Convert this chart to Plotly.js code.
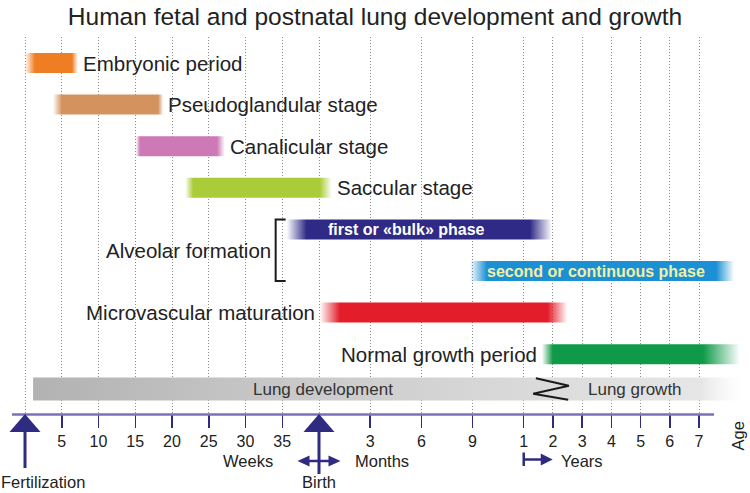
<!DOCTYPE html>
<html>
<head>
<meta charset="utf-8">
<script src="https://cdn.plot.ly/plotly-3.0.1.min.js"></script>
<style>html,body{margin:0;padding:0;background:#fff;}#chart{width:750px;height:493px;}</style>
</head>
<body>
<div id="chart"></div>
<script>
// ---------------- DATA ----------------
const title = 'Human fetal and postnatal lung development and growth';
const stages = ['Embryonic period', 'Pseudoglandular stage', 'Canalicular stage', 'Saccular stage',
                'first or «bulk» phase', 'second or continuous phase', 'Microvascular maturation', 'Normal growth period'];
const startVal  = [0,    3.8,  15.1, 21.8, 35.6, 8.85, 0.05, 1.62];
const startUnit = ['wk', 'wk', 'wk', 'wk', 'wk', 'mo', 'mo', 'yr'];
const endVal    = [7.2,  18.8, 27.2, 0.75, 1.96, 8.2,  2.5,  8.4];
const endUnit   = ['wk', 'wk', 'wk', 'mo', 'yr', 'yr', 'yr', 'yr'];
const groupLabel = 'Alveolar formation';   // groups stages 4 and 5

const devLabel = 'Lung development';
const growLabel = 'Lung growth';
const devStart = [1.1, 'wk'];
const devEnd = [8.5, 'yr'];
const breakAt = [1.93, 'yr'];

const weekTicks = [5, 10, 15, 20, 25, 30, 35];
const monthTicks = [3, 6, 9];
const yearTicks = [1, 2, 3, 4, 5, 6, 7];
const unitLabels = ['Weeks', 'Months', 'Years'];
const eventLabels = ['Fertilization', 'Birth'];
const ageLabel = 'Age';

// ---------------- STYLE ----------------
const FONT = 'Liberation Sans, Arial, Helvetica, sans-serif';
const colors = ['#ef7d22', '#d4935e', '#cc79b5', '#aacc38', '#2e2a86', '#1b90d5', '#e31e2a', '#0e9a48'];
const fadeIn  = [10, 9, 4, 8, 20, 17, 20, 11];
const fadeOut = [6, 5, 8, 12, 22, 18, 20, 37];
const labelMode = ['right', 'right', 'right', 'right', 'inside', 'inside', 'left', 'left'];
const insideShift = [0, 0, 0, 0, -13, -6, 0, 0];
const insideColor = ['#fff', '#fff', '#fff', '#fff', '#ffffff', '#f3efa2', '#fff', '#fff'];
const NAVY = '#2f2b80';

// ---------------- SCALE (broken time axis) ----------------
const PXW = 7.35;                // drawing px per week
const MO = 17.06 / PXW;          // axis units per month
const YR = 29.22 / PXW;          // axis units per year
function pos(v, unit) {
  if (unit === 'wk') return v;
  if (unit === 'mo') return 40 + v * MO;
  return 40 + 12 * MO + (v - 1) * YR;
}
function du(px) { return px / PXW; }
const ROW = 41.6;
function dr(px) { return px / ROW; }
const TOP = 37, BOT = 414, ROW0 = 63;
function yP(px) { return (BOT - px) / (BOT - TOP); }

function rgba(hex, a) {
  const n = parseInt(hex.slice(1), 16);
  return 'rgba(' + ((n >> 16) & 255) + ',' + ((n >> 8) & 255) + ',' + (n & 255) + ',' + a + ')';
}

const traces = [];
const annotations = [];
const shapes = [];
const barH = dr(20);

function rectTrace(x0, x1, yc, h, colorscale) {
  return {
    type: 'scatter', mode: 'lines', hoverinfo: 'skip', showlegend: false,
    x: [x0, x1, x1, x0, x0],
    y: [yc - h / 2, yc - h / 2, yc + h / 2, yc + h / 2, yc - h / 2],
    line: {width: 0, color: 'rgba(0,0,0,0)'},
    fill: 'toself',
    fillgradient: {type: 'horizontal', colorscale: colorscale}
  };
}

// gray development / growth bar
const devRow = dr(389 - ROW0);
{
  const x0 = pos(devStart[0], devStart[1]), x1 = pos(devEnd[0], devEnd[1]);
  const wpx = (x1 - x0) * PXW;
  const f = 1 - 42 / wpx;
  traces.push(rectTrace(x0, x1, devRow, dr(23), [
    [0, 'rgb(178,178,178)'], [0.4, 'rgb(203,203,203)'], [0.72, 'rgb(219,219,219)'],
    [f, 'rgb(230,230,230)'], [1, 'rgba(245,245,245,0)']]));
  annotations.push({x: pos(0, 'mo'), y: devRow, xref: 'x', yref: 'y', text: devLabel, showarrow: false,
    xanchor: 'center', yanchor: 'middle', xshift: 4, font: {family: FONT, size: 17, color: '#333'}});
  const bx = pos(breakAt[0], breakAt[1]);
  annotations.push({x: bx, y: devRow, xref: 'x', yref: 'y', text: growLabel, showarrow: false,
    xanchor: 'left', yanchor: 'middle', xshift: 35, font: {family: FONT, size: 17, color: '#333'}});
  traces.push({type: 'scatter', mode: 'lines', hoverinfo: 'skip', showlegend: false,
    x: [bx + du(-15), bx + du(18), bx + du(-17.7), bx + du(17.3)],
    y: [devRow + dr(-10.8), devRow + dr(-3.2), devRow + dr(4.8), devRow + dr(10.8)],
    line: {color: '#1a1a1a', width: 2}});
}

// stage bars
stages.forEach((name, i) => {
  const x0 = pos(startVal[i], startUnit[i]);
  const x1 = pos(endVal[i], endUnit[i]);
  const wpx = (x1 - x0) * PXW;
  const c = colors[i];
  traces.push(rectTrace(x0, x1, i, barH, [
    [0, rgba(c, 0)], [fadeIn[i] / wpx, rgba(c, 1)], [1 - fadeOut[i] / wpx, rgba(c, 1)], [1, rgba(c, 0)]]));
  const m = labelMode[i];
  if (m === 'right') {
    annotations.push({x: x1, y: i, xref: 'x', yref: 'y', text: name, showarrow: false, xanchor: 'left',
      yanchor: 'middle', xshift: 3, font: {family: FONT, size: 20.5, color: '#222'}});
  } else if (m === 'left') {
    annotations.push({x: x0, y: i, xref: 'x', yref: 'y', text: name, showarrow: false, xanchor: 'right',
      yanchor: 'middle', xshift: -3, font: {family: FONT, size: 20.5, color: '#222'}});
  } else {
    annotations.push({x: (x0 + x1) / 2, y: i, xref: 'x', yref: 'y', text: '<b>' + name + '</b>', showarrow: false,
      xanchor: 'center', yanchor: 'middle', xshift: insideShift[i],
      font: {family: FONT, size: 16, color: insideColor[i]}});
  }
});

// Alveolar formation bracket (groups rows 4 and 5)
{
  const bx = pos(startVal[4], startUnit[4]) - du(11);
  const top = 4 - barH / 2, bot = 5 + barH / 2;
  traces.push({type: 'scatter', mode: 'lines', hoverinfo: 'skip', showlegend: false,
    x: [bx + du(10), bx, bx, bx + du(10)], y: [top, top, bot, bot],
    line: {color: '#1a1a1a', width: 2}});
  annotations.push({x: bx, y: 4.5, xref: 'x', yref: 'y', text: groupLabel, showarrow: false,
    xanchor: 'right', yanchor: 'middle', xshift: -3, font: {family: FONT, size: 20.5, color: '#222'}});
}

// ---------------- AXIS ----------------
const tickvals = [0].concat(weekTicks.map(w => pos(w, 'wk')), [40],
  monthTicks.map(m => pos(m, 'mo')), yearTicks.map(y => pos(y, 'yr')));
const ticktext = [''].concat(weekTicks.map(String), [''], monthTicks.map(String), yearTicks.map(String));

const xFert = pos(0, 'wk'), xBirth = pos(40, 'wk'), xYear = pos(1, 'yr');
// axis line
shapes.push({type: 'line', xref: 'x', yref: 'paper', x0: xFert - du(13), x1: pos(7, 'yr') + du(15),
  y0: yP(414.5), y1: yP(414.5), line: {color: '#7a72b6', width: 2.5}, layer: 'above'});

function bigArrow(x, shaftEnd) {
  shapes.push({type: 'path', xref: 'x', yref: 'paper', fillcolor: NAVY, line: {width: 0}, layer: 'above',
    path: 'M' + x + ',' + yP(414) + ' L' + (x + du(15.5)) + ',' + yP(432) + ' L' + (x - du(15.5)) + ',' + yP(432) + ' Z'});
  shapes.push({type: 'line', xref: 'x', yref: 'paper', x0: x, x1: x, y0: yP(431), y1: yP(shaftEnd),
    line: {color: NAVY, width: 3}, layer: 'above'});
}
bigArrow(xFert, 468);
bigArrow(xBirth, 474);

function head(xTip, dir, y, len, half) {
  const xb = xTip - dir * du(len);
  shapes.push({type: 'path', xref: 'x', yref: 'paper', fillcolor: NAVY, line: {width: 0}, layer: 'above',
    path: 'M' + xTip + ',' + yP(y) + ' L' + xb + ',' + yP(y - half) + ' L' + xb + ',' + yP(y + half) + ' Z'});
}
// birth double arrow
shapes.push({type: 'line', xref: 'x', yref: 'paper', x0: xBirth - du(12), x1: xBirth + du(12),
  y0: yP(461), y1: yP(461), line: {color: NAVY, width: 2.5}, layer: 'above'});
head(xBirth - du(21.5), -1, 461, 12, 5.5);
head(xBirth + du(21.5), 1, 461, 12, 5.5);
// years arrow
shapes.push({type: 'line', xref: 'x', yref: 'paper', x0: xYear, x1: xYear,
  y0: yP(452.5), y1: yP(466), line: {color: NAVY, width: 2.5}, layer: 'above'});
shapes.push({type: 'line', xref: 'x', yref: 'paper', x0: xYear, x1: xYear + du(19),
  y0: yP(459.5), y1: yP(459.5), line: {color: NAVY, width: 2.5}, layer: 'above'});
head(xYear + du(29), 1, 459.5, 12, 6);

const lblFont = {family: FONT, size: 16.5, color: '#222'};
annotations.push({x: xBirth, xref: 'x', y: yP(461), yref: 'paper', text: unitLabels[0], showarrow: false,
  xanchor: 'center', yanchor: 'middle', xshift: -71, font: lblFont});
annotations.push({x: xBirth, xref: 'x', y: yP(461), yref: 'paper', text: unitLabels[1], showarrow: false,
  xanchor: 'left', yanchor: 'middle', xshift: 34, font: lblFont});
annotations.push({x: xYear, xref: 'x', y: yP(461), yref: 'paper', text: unitLabels[2], showarrow: false,
  xanchor: 'left', yanchor: 'middle', xshift: 35, font: lblFont});
annotations.push({x: xFert, xref: 'x', y: yP(482), yref: 'paper', text: eventLabels[0], showarrow: false,
  xanchor: 'center', yanchor: 'middle', xshift: 17.5, font: lblFont});
annotations.push({x: xBirth, xref: 'x', y: yP(482), yref: 'paper', text: eventLabels[1], showarrow: false,
  xanchor: 'center', yanchor: 'middle', font: lblFont});
annotations.push({x: pos(7, 'yr'), xref: 'x', y: yP(436), yref: 'paper', text: ageLabel, showarrow: false,
  xanchor: 'center', yanchor: 'middle', xshift: 38.5, textangle: -90, font: lblFont});

const layout = {
  width: 750, height: 493,
  margin: {l: 0, r: 0, t: TOP, b: 493 - BOT, pad: 0},
  paper_bgcolor: '#fff', plot_bgcolor: '#fff',
  showlegend: false, hovermode: false,
  title: {text: title, x: 0.5, xanchor: 'center', y: 1 - 16 / 493, yanchor: 'middle', yref: 'container',
    font: {family: FONT, size: 24.5, color: '#222'}},
  xaxis: {
    range: [-25 / PXW, (750 - 25) / PXW], fixedrange: true,
    tickmode: 'array', tickvals: tickvals, ticktext: ticktext,
    ticks: 'outside', ticklen: 13, tickwidth: 1.5, tickcolor: NAVY,
    tickfont: {family: FONT, size: 16, color: '#222'},
    showgrid: true, gridcolor: '#8a8a8a', gridwidth: 1, griddash: '1px,2px',
    zeroline: false, showline: false
  },
  yaxis: {range: [(BOT - ROW0) / ROW, (TOP - ROW0) / ROW], visible: false, fixedrange: true},
  shapes: shapes,
  annotations: annotations
};

Plotly.newPlot('chart', traces, layout, {displayModeBar: false, staticPlot: true});
</script>
</body>
</html>
